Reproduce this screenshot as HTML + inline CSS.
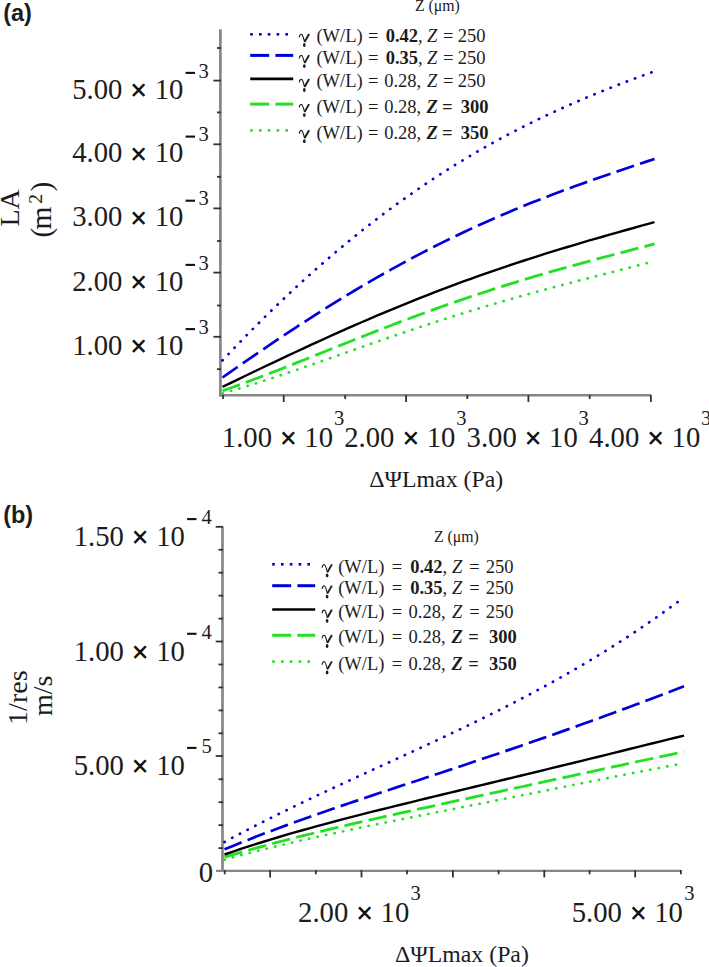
<!DOCTYPE html>
<html><head><meta charset="utf-8"><title>chart</title>
<style>html,body{margin:0;padding:0;background:#fff;overflow:hidden;} svg{display:block;}</style>
</head><body>
<svg width="709" height="967" viewBox="0 0 709 967" xml:space="preserve"><line x1="220.40" y1="29.30" x2="220.40" y2="396.40" stroke="#868686" stroke-width="2.7"/>
<line x1="219.00" y1="395.30" x2="651.00" y2="395.30" stroke="#868686" stroke-width="2.4"/>
<line x1="213.40" y1="80.60" x2="221.00" y2="80.60" stroke="#333333" stroke-width="1.8"/>
<line x1="213.40" y1="144.30" x2="221.00" y2="144.30" stroke="#333333" stroke-width="1.8"/>
<line x1="213.40" y1="208.40" x2="221.00" y2="208.40" stroke="#333333" stroke-width="1.8"/>
<line x1="213.40" y1="272.60" x2="221.00" y2="272.60" stroke="#333333" stroke-width="1.8"/>
<line x1="213.40" y1="336.80" x2="221.00" y2="336.80" stroke="#333333" stroke-width="1.8"/>
<line x1="217.00" y1="48.00" x2="221.00" y2="48.00" stroke="#333333" stroke-width="1.8"/>
<line x1="217.00" y1="112.40" x2="221.00" y2="112.40" stroke="#333333" stroke-width="1.8"/>
<line x1="217.00" y1="176.80" x2="221.00" y2="176.80" stroke="#333333" stroke-width="1.8"/>
<line x1="217.00" y1="241.00" x2="221.00" y2="241.00" stroke="#333333" stroke-width="1.8"/>
<line x1="217.00" y1="305.50" x2="221.00" y2="305.50" stroke="#333333" stroke-width="1.8"/>
<line x1="217.00" y1="369.20" x2="221.00" y2="369.20" stroke="#333333" stroke-width="1.8"/>
<line x1="283.70" y1="395.00" x2="283.70" y2="402.00" stroke="#333333" stroke-width="1.8"/>
<line x1="406.10" y1="395.00" x2="406.10" y2="402.00" stroke="#333333" stroke-width="1.8"/>
<line x1="528.40" y1="395.00" x2="528.40" y2="402.00" stroke="#333333" stroke-width="1.8"/>
<line x1="650.90" y1="395.00" x2="650.90" y2="402.00" stroke="#333333" stroke-width="1.8"/>
<line x1="223.00" y1="395.00" x2="223.00" y2="399.00" stroke="#333333" stroke-width="1.8"/>
<line x1="345.20" y1="395.00" x2="345.20" y2="399.00" stroke="#333333" stroke-width="1.8"/>
<line x1="467.30" y1="395.00" x2="467.30" y2="399.00" stroke="#333333" stroke-width="1.8"/>
<line x1="589.70" y1="395.00" x2="589.70" y2="399.00" stroke="#333333" stroke-width="1.8"/>
<polyline points="222.50,393.39 229.82,391.30 237.14,389.14 244.47,386.92 251.79,384.65 259.11,382.33 266.43,379.96 273.75,377.55 281.08,375.11 288.40,372.63 295.72,370.13 303.04,367.61 310.36,365.07 317.69,362.51 325.01,359.95 332.33,357.37 339.65,354.80 346.97,352.22 354.30,349.65 361.62,347.08 368.94,344.52 376.26,341.97 383.58,339.43 390.91,336.91 398.23,334.41 405.55,331.92 412.87,329.46 420.19,327.02 427.52,324.61 434.84,322.21 442.16,319.85 449.48,317.51 456.81,315.20 464.13,312.92 471.45,310.67 478.77,308.44 486.09,306.24 493.42,304.08 500.74,301.94 508.06,299.82 515.38,297.74 522.70,295.68 530.03,293.65 537.35,291.64 544.67,289.65 551.99,287.68 559.31,285.73 566.64,283.80 573.96,281.89 581.28,279.99 588.60,278.10 595.92,276.21 603.25,274.34 610.57,272.46 617.89,270.59 625.21,268.71 632.53,266.82 639.86,264.92 647.18,263.01 654.50,261.08" fill="none" stroke="#22e022" stroke-width="2.7" stroke-dasharray="0.3 8.4" stroke-linecap="round" stroke-linejoin="round"/>
<polyline points="222.50,390.82 229.82,388.25 237.14,385.62 244.47,382.93 251.79,380.21 259.11,377.44 266.43,374.64 273.75,371.80 281.08,368.94 288.40,366.06 295.72,363.16 303.04,360.25 310.36,357.32 317.69,354.40 325.01,351.46 332.33,348.53 339.65,345.61 346.97,342.69 354.30,339.78 361.62,336.88 368.94,334.00 376.26,331.14 383.58,328.30 390.91,325.48 398.23,322.68 405.55,319.92 412.87,317.18 420.19,314.46 427.52,311.78 434.84,309.13 442.16,306.52 449.48,303.94 456.81,301.39 464.13,298.88 471.45,296.40 478.77,293.96 486.09,291.56 493.42,289.19 500.74,286.86 508.06,284.56 515.38,282.29 522.70,280.07 530.03,277.87 537.35,275.70 544.67,273.57 551.99,271.47 559.31,269.39 566.64,267.34 573.96,265.31 581.28,263.31 588.60,261.33 595.92,259.36 603.25,257.42 610.57,255.48 617.89,253.55 625.21,251.64 632.53,249.72 639.86,247.81 647.18,245.89 654.50,243.97" fill="none" stroke="#22e022" stroke-width="2.8" stroke-dasharray="18.5 6.3" stroke-linejoin="round"/>
<polyline points="222.50,386.85 229.82,383.32 237.14,379.80 244.47,376.28 251.79,372.77 259.11,369.27 266.43,365.78 273.75,362.30 281.08,358.84 288.40,355.39 295.72,351.97 303.04,348.56 310.36,345.18 317.69,341.82 325.01,338.48 332.33,335.17 339.65,331.89 346.97,328.64 354.30,325.42 361.62,322.23 368.94,319.07 376.26,315.94 383.58,312.85 390.91,309.79 398.23,306.77 405.55,303.78 412.87,300.83 420.19,297.92 427.52,295.04 434.84,292.20 442.16,289.40 449.48,286.64 456.81,283.91 464.13,281.22 471.45,278.57 478.77,275.95 486.09,273.37 493.42,270.83 500.74,268.32 508.06,265.84 515.38,263.41 522.70,261.00 530.03,258.63 537.35,256.29 544.67,253.98 551.99,251.70 559.31,249.45 566.64,247.23 573.96,245.04 581.28,242.87 588.60,240.72 595.92,238.60 603.25,236.49 610.57,234.41 617.89,232.34 625.21,230.28 632.53,228.24 639.86,226.21 647.18,224.19 654.50,222.18" fill="none" stroke="#000" stroke-width="2.4" stroke-linejoin="round"/>
<polyline points="222.50,377.50 229.82,372.37 237.14,367.26 244.47,362.18 251.79,357.13 259.11,352.11 266.43,347.12 273.75,342.17 281.08,337.26 288.40,332.39 295.72,327.57 303.04,322.79 310.36,318.06 317.69,313.38 325.01,308.75 332.33,304.17 339.65,299.65 346.97,295.18 354.30,290.77 361.62,286.42 368.94,282.13 376.26,277.90 383.58,273.73 390.91,269.63 398.23,265.58 405.55,261.60 412.87,257.68 420.19,253.82 427.52,250.03 434.84,246.30 442.16,242.64 449.48,239.03 456.81,235.49 464.13,232.02 471.45,228.60 478.77,225.25 486.09,221.95 493.42,218.71 500.74,215.53 508.06,212.41 515.38,209.34 522.70,206.33 530.03,203.37 537.35,200.46 544.67,197.60 551.99,194.78 559.31,192.01 566.64,189.29 573.96,186.60 581.28,183.95 588.60,181.34 595.92,178.75 603.25,176.20 610.57,173.68 617.89,171.18 625.21,168.70 632.53,166.24 639.86,163.79 647.18,161.36 654.50,158.93" fill="none" stroke="#0000d8" stroke-width="2.7" stroke-dasharray="18.5 6.3" stroke-linejoin="round"/>
<polyline points="222.50,360.42 229.82,352.67 237.14,345.02 244.47,337.47 251.79,330.03 259.11,322.68 266.43,315.44 273.75,308.30 281.08,301.27 288.40,294.34 295.72,287.52 303.04,280.80 310.36,274.19 317.69,267.69 325.01,261.28 332.33,254.99 339.65,248.80 346.97,242.72 354.30,236.74 361.62,230.87 368.94,225.11 376.26,219.45 383.58,213.89 390.91,208.43 398.23,203.08 405.55,197.84 412.87,192.69 420.19,187.65 427.52,182.70 434.84,177.86 442.16,173.11 449.48,168.46 456.81,163.91 464.13,159.45 471.45,155.08 478.77,150.81 486.09,146.63 493.42,142.54 500.74,138.53 508.06,134.61 515.38,130.78 522.70,127.03 530.03,123.36 537.35,119.77 544.67,116.26 551.99,112.82 559.31,109.45 566.64,106.16 573.96,102.93 581.28,99.77 588.60,96.68 595.92,93.65 603.25,90.67 610.57,87.75 617.89,84.89 625.21,82.08 632.53,79.32 639.86,76.60 647.18,73.92 654.50,71.29" fill="none" stroke="#0000d8" stroke-width="2.7" stroke-dasharray="0.3 8.4" stroke-linecap="round" stroke-linejoin="round"/>
<line x1="222.50" y1="526.80" x2="222.50" y2="872.00" stroke="#868686" stroke-width="2.7"/>
<line x1="216.00" y1="870.90" x2="681.00" y2="870.90" stroke="#868686" stroke-width="2.4"/>
<line x1="215.70" y1="526.80" x2="223.00" y2="526.80" stroke="#333333" stroke-width="1.8"/>
<line x1="215.70" y1="641.50" x2="223.00" y2="641.50" stroke="#333333" stroke-width="1.8"/>
<line x1="215.70" y1="756.00" x2="223.00" y2="756.00" stroke="#333333" stroke-width="1.8"/>
<line x1="218.50" y1="549.75" x2="223.00" y2="549.75" stroke="#333333" stroke-width="1.8"/>
<line x1="218.50" y1="572.70" x2="223.00" y2="572.70" stroke="#333333" stroke-width="1.8"/>
<line x1="218.50" y1="595.65" x2="223.00" y2="595.65" stroke="#333333" stroke-width="1.8"/>
<line x1="218.50" y1="618.60" x2="223.00" y2="618.60" stroke="#333333" stroke-width="1.8"/>
<line x1="218.50" y1="664.50" x2="223.00" y2="664.50" stroke="#333333" stroke-width="1.8"/>
<line x1="218.50" y1="687.45" x2="223.00" y2="687.45" stroke="#333333" stroke-width="1.8"/>
<line x1="218.50" y1="710.40" x2="223.00" y2="710.40" stroke="#333333" stroke-width="1.8"/>
<line x1="218.50" y1="733.35" x2="223.00" y2="733.35" stroke="#333333" stroke-width="1.8"/>
<line x1="218.50" y1="779.25" x2="223.00" y2="779.25" stroke="#333333" stroke-width="1.8"/>
<line x1="218.50" y1="802.20" x2="223.00" y2="802.20" stroke="#333333" stroke-width="1.8"/>
<line x1="218.50" y1="825.15" x2="223.00" y2="825.15" stroke="#333333" stroke-width="1.8"/>
<line x1="218.50" y1="848.10" x2="223.00" y2="848.10" stroke="#333333" stroke-width="1.8"/>
<line x1="224.70" y1="870.00" x2="224.70" y2="874.30" stroke="#333333" stroke-width="1.8"/>
<line x1="270.10" y1="870.00" x2="270.10" y2="877.40" stroke="#333333" stroke-width="1.8"/>
<line x1="315.80" y1="870.00" x2="315.80" y2="874.30" stroke="#333333" stroke-width="1.8"/>
<line x1="361.50" y1="870.00" x2="361.50" y2="877.40" stroke="#333333" stroke-width="1.8"/>
<line x1="407.00" y1="870.00" x2="407.00" y2="874.30" stroke="#333333" stroke-width="1.8"/>
<line x1="452.90" y1="870.00" x2="452.90" y2="877.40" stroke="#333333" stroke-width="1.8"/>
<line x1="498.60" y1="870.00" x2="498.60" y2="874.30" stroke="#333333" stroke-width="1.8"/>
<line x1="544.30" y1="870.00" x2="544.30" y2="877.40" stroke="#333333" stroke-width="1.8"/>
<line x1="589.60" y1="870.00" x2="589.60" y2="874.30" stroke="#333333" stroke-width="1.8"/>
<line x1="635.20" y1="870.00" x2="635.20" y2="877.40" stroke="#333333" stroke-width="1.8"/>
<line x1="680.90" y1="870.00" x2="680.90" y2="874.30" stroke="#333333" stroke-width="1.8"/>
<polyline points="224.50,859.61 232.29,857.47 240.08,855.38 247.86,853.34 255.65,851.35 263.44,849.39 271.23,847.48 279.02,845.61 286.81,843.77 294.59,841.96 302.38,840.18 310.17,838.44 317.96,836.71 325.75,835.01 333.53,833.33 341.32,831.67 349.11,830.03 356.90,828.41 364.69,826.79 372.47,825.19 380.26,823.61 388.05,822.03 395.84,820.45 403.63,818.89 411.42,817.33 419.20,815.77 426.99,814.22 434.78,812.67 442.57,811.13 450.36,809.58 458.14,808.03 465.93,806.48 473.72,804.94 481.51,803.39 489.30,801.84 497.08,800.28 504.87,798.73 512.66,797.17 520.45,795.61 528.24,794.05 536.03,792.48 543.81,790.92 551.60,789.35 559.39,787.78 567.18,786.21 574.97,784.64 582.75,783.07 590.54,781.51 598.33,779.94 606.12,778.38 613.91,776.83 621.69,775.28 629.48,773.73 637.27,772.20 645.06,770.67 652.85,769.15 660.64,767.65 668.42,766.16 676.21,764.69 684.00,763.23" fill="none" stroke="#22e022" stroke-width="2.7" stroke-dasharray="0.3 8.4" stroke-linecap="round" stroke-linejoin="round"/>
<polyline points="224.50,857.18 232.29,854.86 240.08,852.59 247.86,850.37 255.65,848.19 263.44,846.05 271.23,843.96 279.02,841.90 286.81,839.88 294.59,837.88 302.38,835.92 310.17,833.99 317.96,832.09 325.75,830.21 333.53,828.35 341.32,826.51 349.11,824.70 356.90,822.90 364.69,821.11 372.47,819.34 380.26,817.59 388.05,815.84 395.84,814.11 403.63,812.39 411.42,810.67 419.20,808.96 426.99,807.26 434.78,805.56 442.57,803.86 450.36,802.17 458.14,800.48 465.93,798.80 473.72,797.11 481.51,795.42 489.30,793.74 497.08,792.06 504.87,790.37 512.66,788.68 520.45,787.00 528.24,785.31 536.03,783.62 543.81,781.93 551.60,780.24 559.39,778.55 567.18,776.85 574.97,775.16 582.75,773.47 590.54,771.78 598.33,770.09 606.12,768.40 613.91,766.71 621.69,765.02 629.48,763.34 637.27,761.67 645.06,760.00 652.85,758.34 660.64,756.68 668.42,755.03 676.21,753.40 684.00,751.77" fill="none" stroke="#22e022" stroke-width="2.8" stroke-dasharray="18.5 6.3" stroke-linejoin="round"/>
<polyline points="224.50,854.51 232.29,851.84 240.08,849.23 247.86,846.68 255.65,844.19 263.44,841.75 271.23,839.36 279.02,837.02 286.81,834.72 294.59,832.47 302.38,830.26 310.17,828.08 317.96,825.93 325.75,823.82 333.53,821.74 341.32,819.69 349.11,817.65 356.90,815.65 364.69,813.66 372.47,811.69 380.26,809.74 388.05,807.80 395.84,805.87 403.63,803.96 411.42,802.06 419.20,800.16 426.99,798.27 434.78,796.39 442.57,794.51 450.36,792.64 458.14,790.77 465.93,788.89 473.72,787.02 481.51,785.15 489.30,783.28 497.08,781.40 504.87,779.53 512.66,777.65 520.45,775.76 528.24,773.88 536.03,771.99 543.81,770.09 551.60,768.19 559.39,766.29 567.18,764.38 574.97,762.47 582.75,760.56 590.54,758.64 598.33,756.72 606.12,754.80 613.91,752.88 621.69,750.96 629.48,749.03 637.27,747.11 645.06,745.19 652.85,743.27 660.64,741.36 668.42,739.45 676.21,737.54 684.00,735.65" fill="none" stroke="#000" stroke-width="2.4" stroke-linejoin="round"/>
<polyline points="224.50,849.36 232.29,846.15 240.08,842.99 247.86,839.89 255.65,836.85 263.44,833.85 271.23,830.89 279.02,827.98 286.81,825.11 294.59,822.28 302.38,819.48 310.17,816.71 317.96,813.97 325.75,811.26 333.53,808.57 341.32,805.90 349.11,803.25 356.90,800.62 364.69,798.00 372.47,795.39 380.26,792.80 388.05,790.21 395.84,787.63 403.63,785.05 411.42,782.48 419.20,779.91 426.99,777.34 434.78,774.76 442.57,772.18 450.36,769.60 458.14,767.01 465.93,764.42 473.72,761.82 481.51,759.20 489.30,756.58 497.08,753.94 504.87,751.30 512.66,748.64 520.45,745.96 528.24,743.28 536.03,740.57 543.81,737.86 551.60,735.12 559.39,732.37 567.18,729.61 574.97,726.83 582.75,724.03 590.54,721.22 598.33,718.39 606.12,715.54 613.91,712.68 621.69,709.80 629.48,706.91 637.27,704.00 645.06,701.08 652.85,698.14 660.64,695.19 668.42,692.23 676.21,689.26 684.00,686.28" fill="none" stroke="#0000d8" stroke-width="2.7" stroke-dasharray="18.5 6.3" stroke-linejoin="round"/>
<polyline points="224.50,841.99 232.29,837.80 240.08,833.68 247.86,829.61 255.65,825.60 263.44,821.64 271.23,817.73 279.02,813.87 286.81,810.05 294.59,806.27 302.38,802.53 310.17,798.82 317.96,795.13 325.75,791.48 333.53,787.85 341.32,784.23 349.11,780.64 356.90,777.05 364.69,773.48 372.47,769.91 380.26,766.35 388.05,762.78 395.84,759.22 403.63,755.65 411.42,752.06 419.20,748.47 426.99,744.86 434.78,741.23 442.57,737.59 450.36,733.91 458.14,730.21 465.93,726.48 473.72,722.71 481.51,718.91 489.30,715.06 497.08,711.18 504.87,707.24 512.66,703.26 520.45,699.23 528.24,695.14 536.03,690.99 543.81,686.78 551.60,682.51 559.39,678.17 567.18,673.76 574.97,669.28 582.75,664.72 590.54,660.09 598.33,655.37 606.12,650.57 613.91,645.68 621.69,640.70 629.48,635.63 637.27,630.46 645.06,625.20 652.85,619.83 660.64,614.36 668.42,608.79 676.21,603.10 684.00,597.30" fill="none" stroke="#0000d8" stroke-width="2.7" stroke-dasharray="0.3 8.4" stroke-linecap="round" stroke-linejoin="round"/>
<rect x="250.20" y="33.00" width="2.6" height="2.6" fill="#0000d8"/>
<rect x="259.00" y="33.00" width="2.6" height="2.6" fill="#0000d8"/>
<rect x="267.80" y="33.00" width="2.6" height="2.6" fill="#0000d8"/>
<rect x="276.60" y="33.00" width="2.6" height="2.6" fill="#0000d8"/>
<rect x="285.40" y="33.00" width="2.6" height="2.6" fill="#0000d8"/>
<line x1="250.20" y1="55.40" x2="269.20" y2="55.40" stroke="#0000d8" stroke-width="3"/>
<line x1="275.40" y1="55.40" x2="293.20" y2="55.40" stroke="#0000d8" stroke-width="3"/>
<line x1="250.20" y1="78.90" x2="293.20" y2="78.90" stroke="#000" stroke-width="2.6"/>
<line x1="250.20" y1="104.10" x2="269.20" y2="104.10" stroke="#22e022" stroke-width="3"/>
<line x1="275.40" y1="104.10" x2="293.20" y2="104.10" stroke="#22e022" stroke-width="3"/>
<rect x="250.20" y="129.10" width="2.6" height="2.6" fill="#22e022"/>
<rect x="259.00" y="129.10" width="2.6" height="2.6" fill="#22e022"/>
<rect x="267.80" y="129.10" width="2.6" height="2.6" fill="#22e022"/>
<rect x="276.60" y="129.10" width="2.6" height="2.6" fill="#22e022"/>
<rect x="285.40" y="129.10" width="2.6" height="2.6" fill="#22e022"/>
<rect x="272.20" y="563.00" width="2.6" height="2.6" fill="#0000d8"/>
<rect x="281.00" y="563.00" width="2.6" height="2.6" fill="#0000d8"/>
<rect x="289.80" y="563.00" width="2.6" height="2.6" fill="#0000d8"/>
<rect x="298.60" y="563.00" width="2.6" height="2.6" fill="#0000d8"/>
<rect x="307.40" y="563.00" width="2.6" height="2.6" fill="#0000d8"/>
<line x1="272.20" y1="585.70" x2="291.20" y2="585.70" stroke="#0000d8" stroke-width="3"/>
<line x1="297.40" y1="585.70" x2="315.20" y2="585.70" stroke="#0000d8" stroke-width="3"/>
<line x1="272.20" y1="609.50" x2="315.20" y2="609.50" stroke="#000" stroke-width="2.6"/>
<line x1="272.20" y1="635.30" x2="291.20" y2="635.30" stroke="#22e022" stroke-width="3"/>
<line x1="297.40" y1="635.30" x2="315.20" y2="635.30" stroke="#22e022" stroke-width="3"/>
<rect x="272.20" y="660.30" width="2.6" height="2.6" fill="#22e022"/>
<rect x="281.00" y="660.30" width="2.6" height="2.6" fill="#22e022"/>
<rect x="289.80" y="660.30" width="2.6" height="2.6" fill="#22e022"/>
<rect x="298.60" y="660.30" width="2.6" height="2.6" fill="#22e022"/>
<rect x="307.40" y="660.30" width="2.6" height="2.6" fill="#22e022"/>
<g transform="translate(299.00,42.40)" fill="none" stroke="#1a1a1a"><path d="M0.3,-5 C0.5,-7.6 1.9,-8.6 2.9,-7.9 C3.8,-7.2 4.6,-4 5.6,-0.6" stroke-width="1.15"/><path d="M10.1,-8.4 L5.5,-0.4" stroke-width="1.9"/><ellipse cx="5.3" cy="2.6" rx="1.35" ry="1.9" fill="#1a1a1a" stroke="none"/></g>
<text x="316.40" y="42.40" font-family='"Liberation Serif", serif' font-size="18.5" fill="#1c1c1c" >(W/L)</text>
<text x="367.90" y="42.40" font-family='"Liberation Serif", serif' font-size="18.5" fill="#1c1c1c" >=</text>
<text x="385.70" y="42.40" font-family='"Liberation Serif", serif' font-size="18.5" font-weight="bold" fill="#1c1c1c" >0.42</text>
<text x="418.00" y="42.40" font-family='"Liberation Serif", serif' font-size="18.5" fill="#1c1c1c" >,</text>
<text x="427.00" y="42.40" font-family='"Liberation Serif", serif' font-size="18.5" font-style="italic" fill="#1c1c1c" >Z</text>
<text x="443.00" y="42.40" font-family='"Liberation Serif", serif' font-size="18.5" fill="#1c1c1c" >=</text>
<text x="457.70" y="42.40" font-family='"Liberation Serif", serif' font-size="18.5" fill="#1c1c1c" >250</text>
<g transform="translate(299.00,63.50)" fill="none" stroke="#1a1a1a"><path d="M0.3,-5 C0.5,-7.6 1.9,-8.6 2.9,-7.9 C3.8,-7.2 4.6,-4 5.6,-0.6" stroke-width="1.15"/><path d="M10.1,-8.4 L5.5,-0.4" stroke-width="1.9"/><ellipse cx="5.3" cy="2.6" rx="1.35" ry="1.9" fill="#1a1a1a" stroke="none"/></g>
<text x="316.40" y="63.50" font-family='"Liberation Serif", serif' font-size="18.5" fill="#1c1c1c" >(W/L)</text>
<text x="367.90" y="63.50" font-family='"Liberation Serif", serif' font-size="18.5" fill="#1c1c1c" >=</text>
<text x="385.70" y="63.50" font-family='"Liberation Serif", serif' font-size="18.5" font-weight="bold" fill="#1c1c1c" >0.35</text>
<text x="418.00" y="63.50" font-family='"Liberation Serif", serif' font-size="18.5" fill="#1c1c1c" >,</text>
<text x="427.00" y="63.50" font-family='"Liberation Serif", serif' font-size="18.5" font-style="italic" fill="#1c1c1c" >Z</text>
<text x="443.00" y="63.50" font-family='"Liberation Serif", serif' font-size="18.5" fill="#1c1c1c" >=</text>
<text x="457.70" y="63.50" font-family='"Liberation Serif", serif' font-size="18.5" fill="#1c1c1c" >250</text>
<g transform="translate(299.00,87.40)" fill="none" stroke="#1a1a1a"><path d="M0.3,-5 C0.5,-7.6 1.9,-8.6 2.9,-7.9 C3.8,-7.2 4.6,-4 5.6,-0.6" stroke-width="1.15"/><path d="M10.1,-8.4 L5.5,-0.4" stroke-width="1.9"/><ellipse cx="5.3" cy="2.6" rx="1.35" ry="1.9" fill="#1a1a1a" stroke="none"/></g>
<text x="316.40" y="87.40" font-family='"Liberation Serif", serif' font-size="18.5" fill="#1c1c1c" >(W/L)</text>
<text x="367.90" y="87.40" font-family='"Liberation Serif", serif' font-size="18.5" fill="#1c1c1c" >=</text>
<text x="384.20" y="87.40" font-family='"Liberation Serif", serif' font-size="18.5" fill="#1c1c1c" >0.28</text>
<text x="416.50" y="87.40" font-family='"Liberation Serif", serif' font-size="18.5" fill="#1c1c1c" >,</text>
<text x="427.00" y="87.40" font-family='"Liberation Serif", serif' font-size="18.5" font-style="italic" fill="#1c1c1c" >Z</text>
<text x="443.00" y="87.40" font-family='"Liberation Serif", serif' font-size="18.5" fill="#1c1c1c" >=</text>
<text x="457.70" y="87.40" font-family='"Liberation Serif", serif' font-size="18.5" fill="#1c1c1c" >250</text>
<g transform="translate(299.00,112.50)" fill="none" stroke="#1a1a1a"><path d="M0.3,-5 C0.5,-7.6 1.9,-8.6 2.9,-7.9 C3.8,-7.2 4.6,-4 5.6,-0.6" stroke-width="1.15"/><path d="M10.1,-8.4 L5.5,-0.4" stroke-width="1.9"/><ellipse cx="5.3" cy="2.6" rx="1.35" ry="1.9" fill="#1a1a1a" stroke="none"/></g>
<text x="316.40" y="112.50" font-family='"Liberation Serif", serif' font-size="18.5" fill="#1c1c1c" >(W/L)</text>
<text x="367.90" y="112.50" font-family='"Liberation Serif", serif' font-size="18.5" fill="#1c1c1c" >=</text>
<text x="384.20" y="112.50" font-family='"Liberation Serif", serif' font-size="18.5" fill="#1c1c1c" >0.28</text>
<text x="416.50" y="112.50" font-family='"Liberation Serif", serif' font-size="18.5" fill="#1c1c1c" >,</text>
<text x="426.50" y="112.50" font-family='"Liberation Serif", serif' font-size="18.5" font-weight="bold" font-style="italic" fill="#1c1c1c" >Z</text>
<text x="442.00" y="112.50" font-family='"Liberation Serif", serif' font-size="18.5" font-weight="bold" fill="#1c1c1c" >=</text>
<text x="460.70" y="112.50" font-family='"Liberation Serif", serif' font-size="18.5" font-weight="bold" fill="#1c1c1c" >300</text>
<g transform="translate(299.00,138.60)" fill="none" stroke="#1a1a1a"><path d="M0.3,-5 C0.5,-7.6 1.9,-8.6 2.9,-7.9 C3.8,-7.2 4.6,-4 5.6,-0.6" stroke-width="1.15"/><path d="M10.1,-8.4 L5.5,-0.4" stroke-width="1.9"/><ellipse cx="5.3" cy="2.6" rx="1.35" ry="1.9" fill="#1a1a1a" stroke="none"/></g>
<text x="316.40" y="138.60" font-family='"Liberation Serif", serif' font-size="18.5" fill="#1c1c1c" >(W/L)</text>
<text x="367.90" y="138.60" font-family='"Liberation Serif", serif' font-size="18.5" fill="#1c1c1c" >=</text>
<text x="384.20" y="138.60" font-family='"Liberation Serif", serif' font-size="18.5" fill="#1c1c1c" >0.28</text>
<text x="416.50" y="138.60" font-family='"Liberation Serif", serif' font-size="18.5" fill="#1c1c1c" >,</text>
<text x="426.50" y="138.60" font-family='"Liberation Serif", serif' font-size="18.5" font-weight="bold" font-style="italic" fill="#1c1c1c" >Z</text>
<text x="442.00" y="138.60" font-family='"Liberation Serif", serif' font-size="18.5" font-weight="bold" fill="#1c1c1c" >=</text>
<text x="460.70" y="138.60" font-family='"Liberation Serif", serif' font-size="18.5" font-weight="bold" fill="#1c1c1c" >350</text>
<g transform="translate(321.80,572.80)" fill="none" stroke="#1a1a1a"><path d="M0.3,-5 C0.5,-7.6 1.9,-8.6 2.9,-7.9 C3.8,-7.2 4.6,-4 5.6,-0.6" stroke-width="1.15"/><path d="M10.1,-8.4 L5.5,-0.4" stroke-width="1.9"/><ellipse cx="5.3" cy="2.6" rx="1.35" ry="1.9" fill="#1a1a1a" stroke="none"/></g>
<text x="338.20" y="572.80" font-family='"Liberation Serif", serif' font-size="18.5" fill="#1c1c1c" >(W/L)</text>
<text x="391.80" y="572.80" font-family='"Liberation Serif", serif' font-size="18.5" fill="#1c1c1c" >=</text>
<text x="410.20" y="572.80" font-family='"Liberation Serif", serif' font-size="18.5" font-weight="bold" fill="#1c1c1c" >0.42</text>
<text x="442.50" y="572.80" font-family='"Liberation Serif", serif' font-size="18.5" fill="#1c1c1c" >,</text>
<text x="452.00" y="572.80" font-family='"Liberation Serif", serif' font-size="18.5" font-style="italic" fill="#1c1c1c" >Z</text>
<text x="469.30" y="572.80" font-family='"Liberation Serif", serif' font-size="18.5" fill="#1c1c1c" >=</text>
<text x="485.70" y="572.80" font-family='"Liberation Serif", serif' font-size="18.5" fill="#1c1c1c" >250</text>
<g transform="translate(321.80,594.00)" fill="none" stroke="#1a1a1a"><path d="M0.3,-5 C0.5,-7.6 1.9,-8.6 2.9,-7.9 C3.8,-7.2 4.6,-4 5.6,-0.6" stroke-width="1.15"/><path d="M10.1,-8.4 L5.5,-0.4" stroke-width="1.9"/><ellipse cx="5.3" cy="2.6" rx="1.35" ry="1.9" fill="#1a1a1a" stroke="none"/></g>
<text x="338.20" y="594.00" font-family='"Liberation Serif", serif' font-size="18.5" fill="#1c1c1c" >(W/L)</text>
<text x="391.80" y="594.00" font-family='"Liberation Serif", serif' font-size="18.5" fill="#1c1c1c" >=</text>
<text x="410.20" y="594.00" font-family='"Liberation Serif", serif' font-size="18.5" font-weight="bold" fill="#1c1c1c" >0.35</text>
<text x="442.50" y="594.00" font-family='"Liberation Serif", serif' font-size="18.5" fill="#1c1c1c" >,</text>
<text x="452.00" y="594.00" font-family='"Liberation Serif", serif' font-size="18.5" font-style="italic" fill="#1c1c1c" >Z</text>
<text x="469.30" y="594.00" font-family='"Liberation Serif", serif' font-size="18.5" fill="#1c1c1c" >=</text>
<text x="485.70" y="594.00" font-family='"Liberation Serif", serif' font-size="18.5" fill="#1c1c1c" >250</text>
<g transform="translate(321.80,618.20)" fill="none" stroke="#1a1a1a"><path d="M0.3,-5 C0.5,-7.6 1.9,-8.6 2.9,-7.9 C3.8,-7.2 4.6,-4 5.6,-0.6" stroke-width="1.15"/><path d="M10.1,-8.4 L5.5,-0.4" stroke-width="1.9"/><ellipse cx="5.3" cy="2.6" rx="1.35" ry="1.9" fill="#1a1a1a" stroke="none"/></g>
<text x="338.20" y="618.20" font-family='"Liberation Serif", serif' font-size="18.5" fill="#1c1c1c" >(W/L)</text>
<text x="391.80" y="618.20" font-family='"Liberation Serif", serif' font-size="18.5" fill="#1c1c1c" >=</text>
<text x="408.60" y="618.20" font-family='"Liberation Serif", serif' font-size="18.5" fill="#1c1c1c" >0.28</text>
<text x="440.90" y="618.20" font-family='"Liberation Serif", serif' font-size="18.5" fill="#1c1c1c" >,</text>
<text x="452.00" y="618.20" font-family='"Liberation Serif", serif' font-size="18.5" font-style="italic" fill="#1c1c1c" >Z</text>
<text x="469.30" y="618.20" font-family='"Liberation Serif", serif' font-size="18.5" fill="#1c1c1c" >=</text>
<text x="485.70" y="618.20" font-family='"Liberation Serif", serif' font-size="18.5" fill="#1c1c1c" >250</text>
<g transform="translate(321.80,643.40)" fill="none" stroke="#1a1a1a"><path d="M0.3,-5 C0.5,-7.6 1.9,-8.6 2.9,-7.9 C3.8,-7.2 4.6,-4 5.6,-0.6" stroke-width="1.15"/><path d="M10.1,-8.4 L5.5,-0.4" stroke-width="1.9"/><ellipse cx="5.3" cy="2.6" rx="1.35" ry="1.9" fill="#1a1a1a" stroke="none"/></g>
<text x="338.20" y="643.40" font-family='"Liberation Serif", serif' font-size="18.5" fill="#1c1c1c" >(W/L)</text>
<text x="391.80" y="643.40" font-family='"Liberation Serif", serif' font-size="18.5" fill="#1c1c1c" >=</text>
<text x="408.60" y="643.40" font-family='"Liberation Serif", serif' font-size="18.5" fill="#1c1c1c" >0.28</text>
<text x="440.90" y="643.40" font-family='"Liberation Serif", serif' font-size="18.5" fill="#1c1c1c" >,</text>
<text x="451.50" y="643.40" font-family='"Liberation Serif", serif' font-size="18.5" font-weight="bold" font-style="italic" fill="#1c1c1c" >Z</text>
<text x="468.30" y="643.40" font-family='"Liberation Serif", serif' font-size="18.5" font-weight="bold" fill="#1c1c1c" >=</text>
<text x="489.00" y="643.40" font-family='"Liberation Serif", serif' font-size="18.5" font-weight="bold" fill="#1c1c1c" >300</text>
<g transform="translate(321.80,669.80)" fill="none" stroke="#1a1a1a"><path d="M0.3,-5 C0.5,-7.6 1.9,-8.6 2.9,-7.9 C3.8,-7.2 4.6,-4 5.6,-0.6" stroke-width="1.15"/><path d="M10.1,-8.4 L5.5,-0.4" stroke-width="1.9"/><ellipse cx="5.3" cy="2.6" rx="1.35" ry="1.9" fill="#1a1a1a" stroke="none"/></g>
<text x="338.20" y="669.80" font-family='"Liberation Serif", serif' font-size="18.5" fill="#1c1c1c" >(W/L)</text>
<text x="391.80" y="669.80" font-family='"Liberation Serif", serif' font-size="18.5" fill="#1c1c1c" >=</text>
<text x="408.60" y="669.80" font-family='"Liberation Serif", serif' font-size="18.5" fill="#1c1c1c" >0.28</text>
<text x="440.90" y="669.80" font-family='"Liberation Serif", serif' font-size="18.5" fill="#1c1c1c" >,</text>
<text x="451.50" y="669.80" font-family='"Liberation Serif", serif' font-size="18.5" font-weight="bold" font-style="italic" fill="#1c1c1c" >Z</text>
<text x="468.30" y="669.80" font-family='"Liberation Serif", serif' font-size="18.5" font-weight="bold" fill="#1c1c1c" >=</text>
<text x="489.00" y="669.80" font-family='"Liberation Serif", serif' font-size="18.5" font-weight="bold" fill="#1c1c1c" >350</text>
<text x="415.00" y="10.90" font-family='"Liberation Serif", serif' font-size="15.8" fill="#1c1c1c" >Z (μm)</text>
<text x="434.00" y="541.80" font-family='"Liberation Serif", serif' font-size="15.8" fill="#1c1c1c" >Z (μm)</text>
<text x="122.35" y="98.50" font-family='"Liberation Serif", serif' font-size="28.7" text-anchor="end" fill="#1c1c1c" >5.00</text>
<text x="138.70" y="99.90" font-family='"Liberation Serif", serif' font-size="28.7" text-anchor="middle" fill="#1c1c1c" stroke="#000" stroke-width="0.8">×</text>
<text x="183.35" y="98.50" font-family='"Liberation Serif", serif' font-size="28.7" text-anchor="end" fill="#1c1c1c" >10</text>
<line x1="185.60" y1="72.90" x2="195.00" y2="72.90" stroke="#111" stroke-width="2.1"/>
<text x="198.40" y="77.60" font-family='"Liberation Serif", serif' font-size="20.5" fill="#1c1c1c" >3</text>
<text x="122.35" y="162.20" font-family='"Liberation Serif", serif' font-size="28.7" text-anchor="end" fill="#1c1c1c" >4.00</text>
<text x="138.70" y="163.60" font-family='"Liberation Serif", serif' font-size="28.7" text-anchor="middle" fill="#1c1c1c" stroke="#000" stroke-width="0.8">×</text>
<text x="183.35" y="162.20" font-family='"Liberation Serif", serif' font-size="28.7" text-anchor="end" fill="#1c1c1c" >10</text>
<line x1="185.60" y1="136.60" x2="195.00" y2="136.60" stroke="#111" stroke-width="2.1"/>
<text x="198.40" y="141.30" font-family='"Liberation Serif", serif' font-size="20.5" fill="#1c1c1c" >3</text>
<text x="122.35" y="226.30" font-family='"Liberation Serif", serif' font-size="28.7" text-anchor="end" fill="#1c1c1c" >3.00</text>
<text x="138.70" y="227.70" font-family='"Liberation Serif", serif' font-size="28.7" text-anchor="middle" fill="#1c1c1c" stroke="#000" stroke-width="0.8">×</text>
<text x="183.35" y="226.30" font-family='"Liberation Serif", serif' font-size="28.7" text-anchor="end" fill="#1c1c1c" >10</text>
<line x1="185.60" y1="200.70" x2="195.00" y2="200.70" stroke="#111" stroke-width="2.1"/>
<text x="198.40" y="205.40" font-family='"Liberation Serif", serif' font-size="20.5" fill="#1c1c1c" >3</text>
<text x="122.35" y="290.50" font-family='"Liberation Serif", serif' font-size="28.7" text-anchor="end" fill="#1c1c1c" >2.00</text>
<text x="138.70" y="291.90" font-family='"Liberation Serif", serif' font-size="28.7" text-anchor="middle" fill="#1c1c1c" stroke="#000" stroke-width="0.8">×</text>
<text x="183.35" y="290.50" font-family='"Liberation Serif", serif' font-size="28.7" text-anchor="end" fill="#1c1c1c" >10</text>
<line x1="185.60" y1="264.90" x2="195.00" y2="264.90" stroke="#111" stroke-width="2.1"/>
<text x="198.40" y="269.60" font-family='"Liberation Serif", serif' font-size="20.5" fill="#1c1c1c" >3</text>
<text x="122.35" y="354.70" font-family='"Liberation Serif", serif' font-size="28.7" text-anchor="end" fill="#1c1c1c" >1.00</text>
<text x="138.70" y="356.10" font-family='"Liberation Serif", serif' font-size="28.7" text-anchor="middle" fill="#1c1c1c" stroke="#000" stroke-width="0.8">×</text>
<text x="183.35" y="354.70" font-family='"Liberation Serif", serif' font-size="28.7" text-anchor="end" fill="#1c1c1c" >10</text>
<line x1="185.60" y1="329.10" x2="195.00" y2="329.10" stroke="#111" stroke-width="2.1"/>
<text x="198.40" y="333.80" font-family='"Liberation Serif", serif' font-size="20.5" fill="#1c1c1c" >3</text>
<text x="123.85" y="546.00" font-family='"Liberation Serif", serif' font-size="28.7" text-anchor="end" fill="#1c1c1c" >1.50</text>
<text x="140.20" y="547.40" font-family='"Liberation Serif", serif' font-size="28.7" text-anchor="middle" fill="#1c1c1c" stroke="#000" stroke-width="0.8">×</text>
<text x="184.85" y="546.00" font-family='"Liberation Serif", serif' font-size="28.7" text-anchor="end" fill="#1c1c1c" >10</text>
<line x1="187.10" y1="519.10" x2="196.50" y2="519.10" stroke="#111" stroke-width="2.1"/>
<text x="201.50" y="523.80" font-family='"Liberation Serif", serif' font-size="20.5" fill="#1c1c1c" >4</text>
<text x="123.85" y="660.70" font-family='"Liberation Serif", serif' font-size="28.7" text-anchor="end" fill="#1c1c1c" >1.00</text>
<text x="140.20" y="662.10" font-family='"Liberation Serif", serif' font-size="28.7" text-anchor="middle" fill="#1c1c1c" stroke="#000" stroke-width="0.8">×</text>
<text x="184.85" y="660.70" font-family='"Liberation Serif", serif' font-size="28.7" text-anchor="end" fill="#1c1c1c" >10</text>
<line x1="187.10" y1="633.80" x2="196.50" y2="633.80" stroke="#111" stroke-width="2.1"/>
<text x="201.50" y="638.50" font-family='"Liberation Serif", serif' font-size="20.5" fill="#1c1c1c" >4</text>
<text x="123.85" y="774.80" font-family='"Liberation Serif", serif' font-size="28.7" text-anchor="end" fill="#1c1c1c" >5.00</text>
<text x="140.20" y="776.20" font-family='"Liberation Serif", serif' font-size="28.7" text-anchor="middle" fill="#1c1c1c" stroke="#000" stroke-width="0.8">×</text>
<text x="184.85" y="774.80" font-family='"Liberation Serif", serif' font-size="28.7" text-anchor="end" fill="#1c1c1c" >10</text>
<line x1="187.10" y1="747.90" x2="196.50" y2="747.90" stroke="#111" stroke-width="2.1"/>
<text x="201.50" y="752.60" font-family='"Liberation Serif", serif' font-size="20.5" fill="#1c1c1c" >5</text>
<text x="198.70" y="881.50" font-family='"Liberation Serif", serif' font-size="28.7" fill="#1c1c1c" >0</text>
<text x="272.05" y="446.50" font-family='"Liberation Serif", serif' font-size="28.7" text-anchor="end" fill="#1c1c1c" >1.00</text>
<text x="288.40" y="447.90" font-family='"Liberation Serif", serif' font-size="28.7" text-anchor="middle" fill="#1c1c1c" stroke="#000" stroke-width="0.8">×</text>
<text x="333.05" y="446.50" font-family='"Liberation Serif", serif' font-size="28.7" text-anchor="end" fill="#1c1c1c" >10</text>
<text x="333.90" y="425.10" font-family='"Liberation Serif", serif' font-size="20.5" fill="#1c1c1c" >3</text>
<text x="394.45" y="446.50" font-family='"Liberation Serif", serif' font-size="28.7" text-anchor="end" fill="#1c1c1c" >2.00</text>
<text x="410.80" y="447.90" font-family='"Liberation Serif", serif' font-size="28.7" text-anchor="middle" fill="#1c1c1c" stroke="#000" stroke-width="0.8">×</text>
<text x="455.45" y="446.50" font-family='"Liberation Serif", serif' font-size="28.7" text-anchor="end" fill="#1c1c1c" >10</text>
<text x="456.30" y="425.10" font-family='"Liberation Serif", serif' font-size="20.5" fill="#1c1c1c" >3</text>
<text x="516.75" y="446.50" font-family='"Liberation Serif", serif' font-size="28.7" text-anchor="end" fill="#1c1c1c" >3.00</text>
<text x="533.10" y="447.90" font-family='"Liberation Serif", serif' font-size="28.7" text-anchor="middle" fill="#1c1c1c" stroke="#000" stroke-width="0.8">×</text>
<text x="577.75" y="446.50" font-family='"Liberation Serif", serif' font-size="28.7" text-anchor="end" fill="#1c1c1c" >10</text>
<text x="578.60" y="425.10" font-family='"Liberation Serif", serif' font-size="20.5" fill="#1c1c1c" >3</text>
<text x="639.25" y="446.50" font-family='"Liberation Serif", serif' font-size="28.7" text-anchor="end" fill="#1c1c1c" >4.00</text>
<text x="655.60" y="447.90" font-family='"Liberation Serif", serif' font-size="28.7" text-anchor="middle" fill="#1c1c1c" stroke="#000" stroke-width="0.8">×</text>
<text x="700.25" y="446.50" font-family='"Liberation Serif", serif' font-size="28.7" text-anchor="end" fill="#1c1c1c" >10</text>
<text x="701.10" y="425.10" font-family='"Liberation Serif", serif' font-size="20.5" fill="#1c1c1c" >3</text>
<text x="348.25" y="921.50" font-family='"Liberation Serif", serif' font-size="28.7" text-anchor="end" fill="#1c1c1c" >2.00</text>
<text x="364.60" y="922.90" font-family='"Liberation Serif", serif' font-size="28.7" text-anchor="middle" fill="#1c1c1c" stroke="#000" stroke-width="0.8">×</text>
<text x="409.25" y="921.50" font-family='"Liberation Serif", serif' font-size="28.7" text-anchor="end" fill="#1c1c1c" >10</text>
<text x="410.50" y="900.10" font-family='"Liberation Serif", serif' font-size="20.5" fill="#1c1c1c" >3</text>
<text x="621.95" y="921.50" font-family='"Liberation Serif", serif' font-size="28.7" text-anchor="end" fill="#1c1c1c" >5.00</text>
<text x="638.30" y="922.90" font-family='"Liberation Serif", serif' font-size="28.7" text-anchor="middle" fill="#1c1c1c" stroke="#000" stroke-width="0.8">×</text>
<text x="682.95" y="921.50" font-family='"Liberation Serif", serif' font-size="28.7" text-anchor="end" fill="#1c1c1c" >10</text>
<text x="684.20" y="900.10" font-family='"Liberation Serif", serif' font-size="20.5" fill="#1c1c1c" >3</text>
<text x="369.20" y="486.80" font-family='"Liberation Serif", serif' font-size="23.8" fill="#1c1c1c" >ΔΨLmax (Pa)</text>
<text x="394.90" y="961.70" font-family='"Liberation Serif", serif' font-size="23.8" fill="#1c1c1c" >ΔΨLmax (Pa)</text>
<text transform="translate(18.8,226.6) rotate(-90)" font-family='"Liberation Serif", serif' font-size="28" fill="#1c1c1c">LA</text>
<g transform="translate(51,237) rotate(-90)" font-family='"Liberation Serif", serif' fill="#1c1c1c">
<text x="-0.5" y="0" font-size="29.5">(</text>
<text x="7.6" y="0" font-size="29.5">m</text>
<text x="33.2" y="-9" font-size="19.5">2</text>
<text x="45.4" y="0" font-size="29.5">)</text>
</g>
<text transform="translate(26.5,724.9) rotate(-90)" font-family='"Liberation Serif", serif' font-size="28" fill="#1c1c1c">1/res</text>
<text transform="translate(51.6,716.0) rotate(-90)" font-family='"Liberation Serif", serif' font-size="28" fill="#1c1c1c">m/s</text>
<text x="3.20" y="21.00" font-family='"Liberation Sans", sans-serif' font-size="23.5" font-weight="bold" fill="#1c1c1c" >(a)</text>
<text x="3.20" y="523.00" font-family='"Liberation Sans", sans-serif' font-size="23.5" font-weight="bold" fill="#1c1c1c" >(b)</text></svg>
</body></html>
